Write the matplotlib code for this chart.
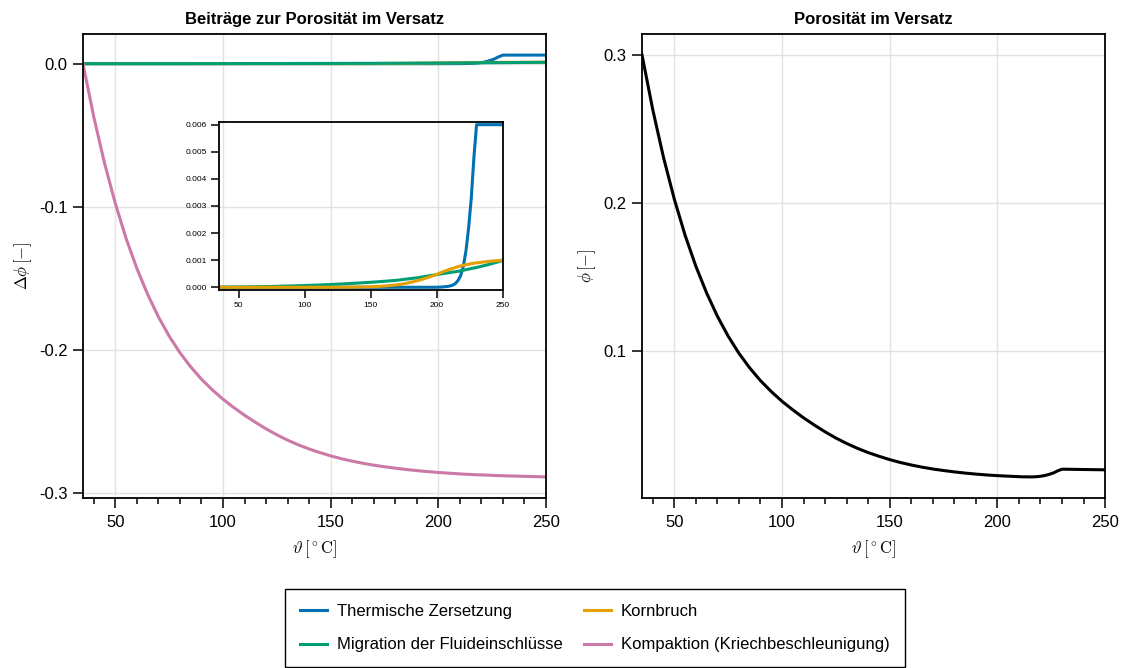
import matplotlib.pyplot as plt
from matplotlib.ticker import MultipleLocator, FormatStrFormatter

# Temperaturstuetzstellen in °C
temperatur = [35, 40, 45, 50, 55, 60, 65, 70, 75, 80, 85, 90, 95, 100, 105, 110, 115,
              120, 125, 130, 135, 140, 145, 150, 155, 160, 165, 170, 175, 180, 185, 190,
              195, 200, 202, 204, 206, 208, 210, 212, 214, 216, 218, 220, 222, 224, 226,
              228, 230, 235, 240, 245, 250]

# Beitraege zur Porositaetsaenderung
thermische_zersetzung = [0.0] * 34 + [
    0.000005, 0.00001, 0.00002, 0.00003, 0.00005, 0.00008, 0.00014, 0.00025,
    0.00044, 0.00078, 0.00135, 0.0022, 0.0033, 0.0048, 0.006,
    0.006, 0.006, 0.006, 0.006]

kornbruch = [0.0] * 18 + [
    0.000002, 0.000004, 0.000006, 0.00001, 0.000014, 0.00002, 0.00003, 0.000045,
    0.000065, 0.00009, 0.00013, 0.00018, 0.00024, 0.00031, 0.00039, 0.00048,
    0.00052, 0.00056, 0.0006, 0.00063, 0.00067, 0.0007, 0.00073, 0.00076,
    0.00079, 0.00081, 0.00083, 0.00085, 0.00087, 0.00089, 0.0009,
    0.00093, 0.00096, 0.00098, 0.001]

migration = [
    0.0, 0.000003, 0.000006, 0.00001, 0.000014, 0.000018, 0.000022, 0.000026,
    0.00003, 0.000037, 0.000044, 0.000051, 0.000058, 0.000065, 0.000074, 0.000083,
    0.000093, 0.000104, 0.000115, 0.000128, 0.000141, 0.000155, 0.00017, 0.000185,
    0.000202, 0.00022, 0.00024, 0.00026, 0.00029, 0.00032, 0.00035, 0.00039,
    0.00043, 0.00047,
    0.000485, 0.0005, 0.000515, 0.00053, 0.000545, 0.00056, 0.000575, 0.00059,
    0.00061, 0.00063, 0.00065, 0.00067, 0.00069, 0.00071, 0.00073,
    0.00079, 0.00085, 0.00092, 0.001]

kompaktion = [
    0.0, -0.0371, -0.0695, -0.0976, -0.1220, -0.1430, -0.1611, -0.1768, -0.1903,
    -0.2019, -0.2118, -0.2204, -0.2278, -0.2344, -0.2402, -0.2456, -0.2505, -0.2551,
    -0.2593, -0.2630, -0.2663, -0.2692, -0.2717, -0.2740, -0.2760, -0.2777, -0.2792,
    -0.2805, -0.2816, -0.2826, -0.2835, -0.2843, -0.2850, -0.2856,
    -0.2858, -0.2860, -0.2862, -0.2864, -0.2866, -0.2868, -0.2869, -0.2871,
    -0.2872, -0.2873, -0.2874, -0.2875, -0.2877, -0.2878, -0.2879,
    -0.2881, -0.2883, -0.2885, -0.2887]

phi_0 = 0.3
porositaet = [phi_0 + a + b + c + d for a, b, c, d in
              zip(thermische_zersetzung, kornbruch, migration, kompaktion)]

BLAU, ORANGE, GRUEN, ROSA = '#0072B2', '#E69F00', '#009E73', '#CC79A7'
GRID = '#e2e2e2'

plt.rcParams.update({
    'font.family': ['Liberation Sans', 'DejaVu Sans'],
    'font.size': 12,
    'mathtext.fontset': 'cm',
    'axes.unicode_minus': False,
    'axes.linewidth': 1.3,
    'axes.labelpad': 6,
    'xtick.major.size': 7,
    'ytick.major.size': 7,
    'xtick.minor.size': 4.5,
    'xtick.major.width': 1.1,
    'ytick.major.width': 1.1,
    'xtick.minor.width': 1.1,
    'xtick.major.pad': 5.5,
    'ytick.major.pad': 4,
})

fig = plt.figure(figsize=(11.26, 6.68), dpi=100)
ax1 = fig.add_axes([0.0737, 0.2545, 0.4112, 0.6946])
ax2 = fig.add_axes([0.5702, 0.2545, 0.4112, 0.6946])
ins = fig.add_axes([0.1945, 0.5659, 0.2522, 0.2515])

lw = 2.2
l_th, = ax1.plot(temperatur, thermische_zersetzung, color=BLAU, lw=lw, label='Thermische Zersetzung')
l_kb, = ax1.plot(temperatur, kornbruch, color=ORANGE, lw=lw, label='Kornbruch')
l_mg, = ax1.plot(temperatur, migration, color=GRUEN, lw=lw, label='Migration der Fluideinschlüsse')
l_kp, = ax1.plot(temperatur, kompaktion, color=ROSA, lw=lw, label='Kompaktion (Kriechbeschleunigung)')

ax2.plot(temperatur, porositaet, color='black', lw=lw)

for ax in (ax1, ax2):
    ax.set_xlim(35, 250)
    ax.xaxis.set_major_locator(MultipleLocator(50))
    ax.xaxis.set_minor_locator(MultipleLocator(10))
    ax.grid(True, which='major', color=GRID, lw=1.0)
    ax.set_axisbelow(True)
    ax.set_xlabel(r'$\vartheta\,[{}^\circ\mathrm{C}]$', fontsize=12)

ax1.set_yticks([0.0, -0.1, -0.2, -0.3])
ax1.yaxis.set_major_formatter(FormatStrFormatter('%.1f'))
ax1.set_ylabel(r'$\Delta\phi\,[-]$', fontsize=12, labelpad=4)
ax1.set_title('Beiträge zur Porosität im Versatz', fontweight='bold', fontsize=12, pad=7)

ax2.set_yticks([0.1, 0.2, 0.3])
ax2.yaxis.set_major_formatter(FormatStrFormatter('%.1f'))
ax2.set_ylabel(r'$\phi\,[-]$', fontsize=12, labelpad=4)
ax2.set_title('Porosität im Versatz', fontweight='bold', fontsize=12, pad=7)

# Ausschnitt der kleinen Beitraege
ins.patch.set_alpha(0)
ins.plot(temperatur, thermische_zersetzung, color=BLAU, lw=lw)
ins.plot(temperatur, migration, color=GRUEN, lw=lw)
ins.plot(temperatur, kornbruch, color=ORANGE, lw=lw)
ins.set_xlim(35, 250)
ins.set_ylim(-0.0001, 0.0061)
ins.xaxis.set_major_locator(MultipleLocator(50))
ins.set_yticks([0.0, 0.001, 0.002, 0.003, 0.004, 0.005, 0.006])
ins.yaxis.set_major_formatter(FormatStrFormatter('%.3f'))
ins.tick_params(labelsize=6, length=6, pad=3)

leg = fig.legend(handles=[l_th, l_mg, l_kb, l_kp], ncol=2, loc='upper center',
                 bbox_to_anchor=(595 / 1126, 1 - 589 / 668), borderaxespad=0,
                 fontsize=12, frameon=True, fancybox=False, edgecolor='black',
                 framealpha=1, handlelength=1.6, handletextpad=0.6,
                 columnspacing=1.3, labelspacing=1.1, borderpad=0.9)
leg.get_frame().set_linewidth(1.0)

fig.savefig('out.png', dpi=100)
